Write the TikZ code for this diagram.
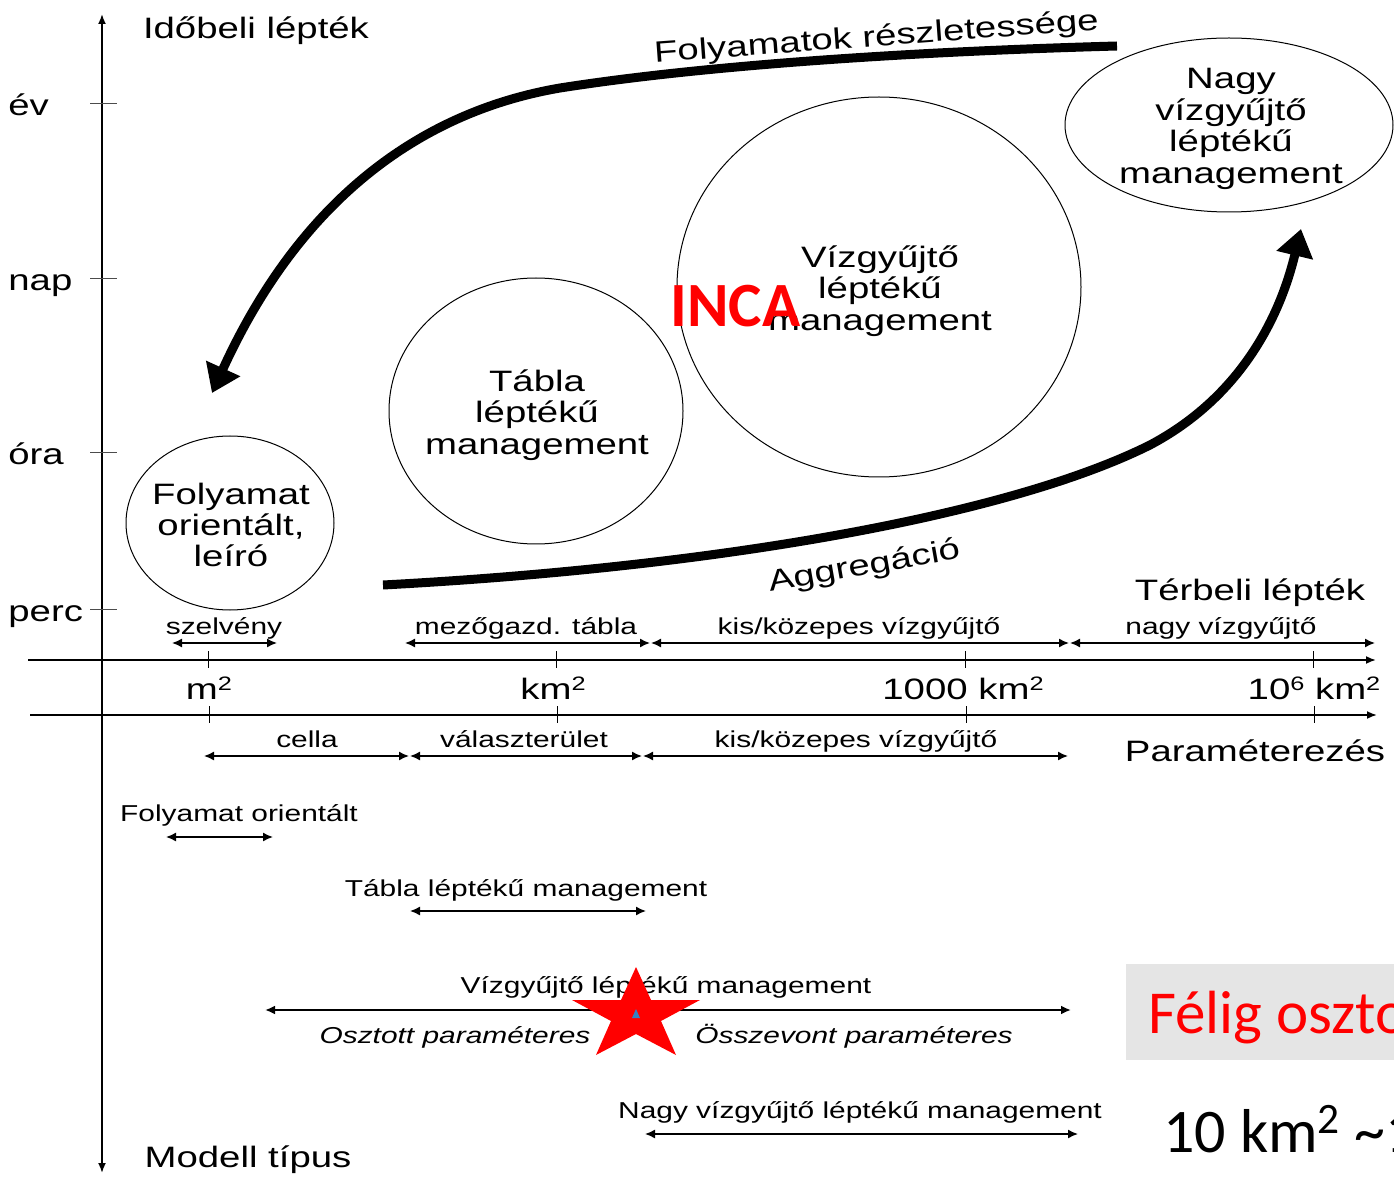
\documentclass[tikz,border=0pt]{standalone}
\usepackage{fontspec}
\setmainfont{Liberation Sans}[FakeStretch=1.3]
\newfontfamily\calibri{Carlito}
\usetikzlibrary{arrows.meta}
\newcommand\supr[1]{\raisebox{0.3em}{\scalebox{0.66}{#1}}}
\begin{document}
\begin{tikzpicture}[x=0.5pt,y=-0.5pt,
  big/.style={font=\fontsize{14.75}{15.7}\selectfont, inner sep=0pt, align=center},
  small/.style={font=\fontsize{11.5}{13}\selectfont, inner sep=0pt},
  axisline/.style={line width=0.9pt, -{Latex[length=5pt,width=4pt]}},
  tickline/.style={line width=0.5pt},
  dbl/.style={line width=0.75pt, {Latex[length=5pt,width=4.5pt]}-{Latex[length=5pt,width=4.5pt]}},
  dblthick/.style={line width=1.4pt, {Latex[length=5pt,width=4.5pt]}-{Latex[length=5pt,width=4.5pt]}},
  ring/.style={line width=0.5pt},
  bigarrow/.style={line width=4.5pt, -{Triangle[length=13.5pt,width=18pt]}},
]
\useasboundingbox (0,0) rectangle (1394,1182);
\clip (0,0) rectangle (1394,1182);

% ---------- axes ----------
\coordinate (vtop) at (102,14);
\coordinate (vbot) at (102,1173);
\draw[line width=0.9pt, {Latex[length=5pt,width=4pt]}-{Latex[length=5pt,width=4pt]}] (vbot) -- (vtop);
\coordinate (h1s) at (28,660);  \coordinate (h1e) at (1376,660);
\coordinate (h2s) at (30,715);  \coordinate (h2e) at (1377,715);
\draw[axisline] (h1s) -- (h1e);
\draw[axisline] (h2s) -- (h2e);

% vertical ticks
\foreach \yy/\nm in {104/ev,279/nap,453/ora,609/perc}{
  \coordinate (t\nm a) at (90,\yy); \coordinate (t\nm b) at (117,\yy);
  \draw[tickline, black!70] (t\nm a) -- (t\nm b);
}
% horizontal ticks
\foreach \xx/\nm in {208/a,556/b,965/c,1313/d}{
  \coordinate (u\nm a) at (\xx,651); \coordinate (u\nm b) at (\xx,668);
  \draw[tickline] (u\nm a) -- (u\nm b);
  \coordinate (w\nm a) at (\xx+1,706); \coordinate (w\nm b) at (\xx+1,723);
  \draw[tickline] (w\nm a) -- (w\nm b);
}

% axis labels
\node[big, anchor=base] (idob) at (256,39) {Időbeli lépték};
\node[big, anchor=base] (modell) at (248,1167) {Modell típus};
\node[big, anchor=base] (terb) at (1250,601) {Térbeli lépték};
\node[big, anchor=base] (param) at (1255,761) {Paraméterezés};
\node[big, anchor=base west] (lev) at (8,116) {év};
\node[big, anchor=base west] (lnap) at (8,291) {nap};
\node[big, anchor=base west] (lora) at (8,465) {óra};
\node[big, anchor=base west] (lperc) at (8,621) {perc};
\node[big, anchor=base] (m2) at (209,699) {m\supr{2}};
\node[big, anchor=base] (km2) at (553,699) {km\supr{2}};
\node[big, anchor=base] (k1000) at (963,699) {1000 km\supr{2}};
\node[big, anchor=base] (k106) at (1314,699) {10\supr{6} km\supr{2}};

% ---------- spatial range arrows (top) ----------
\coordinate (sa1) at (172,643); \coordinate (sa2) at (277,643);
\coordinate (sb1) at (405,643); \coordinate (sb2) at (650,643);
\coordinate (sc1) at (651,643); \coordinate (sc2) at (1069,643);
\coordinate (sd1) at (1070,643); \coordinate (sd2) at (1375,643);
\draw[dbl] (sa1) -- (sa2);
\draw[dbl] (sb1) -- (sb2);
\draw[dbl] (sc1) -- (sc2);
\draw[dbl] (sd1) -- (sd2);
\node[small, anchor=base] (szelv) at (224,634) {szelvény};
\node[small, anchor=base] (mezo) at (526,634) {mezőgazd. tábla};
\node[small, anchor=base] (kis1) at (859,634) {kis/közepes vízgyűjtő};
\node[small, anchor=base] (nagy1) at (1221,634) {nagy vízgyűjtő};

% ---------- parameter range arrows (bottom) ----------
\coordinate (pa1) at (204,756); \coordinate (pa2) at (409,756);
\coordinate (pb1) at (410,756); \coordinate (pb2) at (642,756);
\coordinate (pc1) at (643,756); \coordinate (pc2) at (1068,756);
\draw[dbl] (pa1) -- (pa2);
\draw[dbl] (pb1) -- (pb2);
\draw[dbl] (pc1) -- (pc2);
\node[small, anchor=base] (cella) at (307,747) {cella};
\node[small, anchor=base] (valasz) at (524,747) {választerület};
\node[small, anchor=base] (kis2) at (856,747) {kis/közepes vízgyűjtő};

% ---------- model types ----------
\node[small, anchor=base] (mfo) at (239,821) {Folyamat orientált};
\coordinate (ma1) at (166,837); \coordinate (ma2) at (273,837);
\draw[dbl] (ma1) -- (ma2);
\node[small, anchor=base] (mtab) at (526,896) {Tábla léptékű management};
\coordinate (mb1) at (410,911); \coordinate (mb2) at (646,911);
\draw[dbl] (mb1) -- (mb2);
\node[small, anchor=base] (mviz) at (666,993) {Vízgyűjtő léptékű management};
\coordinate (mc1) at (265,1010); \coordinate (mc2) at (1071,1010);
\draw[dblthick] (mc1) -- (mc2);
\node[small, anchor=base, font=\fontsize{11.5}{13}\selectfont\itshape] (oszt) at (455,1043) {Osztott paraméteres};
\node[small, anchor=base, font=\fontsize{11.5}{13}\selectfont\itshape] (ossz) at (854,1043) {Összevont paraméteres};
\node[small, anchor=base] (mnagy) at (860,1118) {Nagy vízgyűjtő léptékű management};
\coordinate (md1) at (645,1134); \coordinate (md2) at (1078,1134);
\draw[dbl] (md1) -- (md2);

% star
\fill[red] (636,967) -- (651,1000) -- (700,1000) -- (661,1021) -- (676,1055)
  -- (636,1034) -- (596,1055) -- (611,1021) -- (572,1000) -- (621,1000) -- cycle;
\fill[blue!45!cyan!70!black!80] (636,1009) -- (640,1018) -- (632,1018) -- cycle;

% ---------- ellipses ----------
\draw[ring] (230,523) ellipse [x radius=52pt, y radius=43.5pt];
\draw[ring] (536,411) ellipse [x radius=73.5pt, y radius=66.5pt];
\draw[ring] (879,287) ellipse [x radius=101pt, y radius=95pt];
\draw[ring] (1229,125) ellipse [x radius=82pt, y radius=43.5pt];
\node[big] (cfoly) at (231,525) {Folyamat\\orientált,\\leíró};
\node[big] (ctabla) at (537,415) {Tábla\\léptékű\\management};
\node[big] (cviz) at (880,291) {Vízgyűjtő\\léptékű\\management};
\node[big] (cnagy) at (1231,129) {Nagy\\vízgyűjtő\\léptékű\\management};

\node[inner sep=0pt, anchor=base west, text=red, font=\calibri\bfseries\fontsize{31.5}{34}\selectfont] (inca) at (670,327) {INCA};

% ---------- big curved arrows ----------
\coordinate (fstart) at (1117,46);
\coordinate (fend) at (212,393);
\draw[bigarrow] (fstart) .. controls (900,52) and (700,66) .. (560,88)
   .. controls (420,112) and (300,200) .. (fend);
\node[big, anchor=base, rotate=4.2] (folyr) at (877,46) {Folyamatok részletessége};

\coordinate (astart) at (383,585);
\coordinate (aend) at (1301,229);
\draw[bigarrow] (astart) .. controls (720,567) and (1010,515) .. (1150,445)
   .. controls (1235,400) and (1278,325) .. (aend);
\node[big, anchor=base, rotate=10] (aggr) at (866,575) {Aggregáció};

% ---------- right-bottom slide fragments ----------
\fill[black!10] (1126,964) rectangle (1400,1060);
\node[inner sep=0pt, anchor=base west, text=red, font=\calibri\fontsize{30.5}{33}\selectfont] (felig) at (1148,1033) {Félig osztott};
\node[inner sep=0pt, anchor=base west, font=\calibri\fontsize{31}{33}\selectfont] (tenkm) at (1163,1152) {10 km\textsuperscript{2} \textasciitilde 1};
\end{tikzpicture}
\end{document}
